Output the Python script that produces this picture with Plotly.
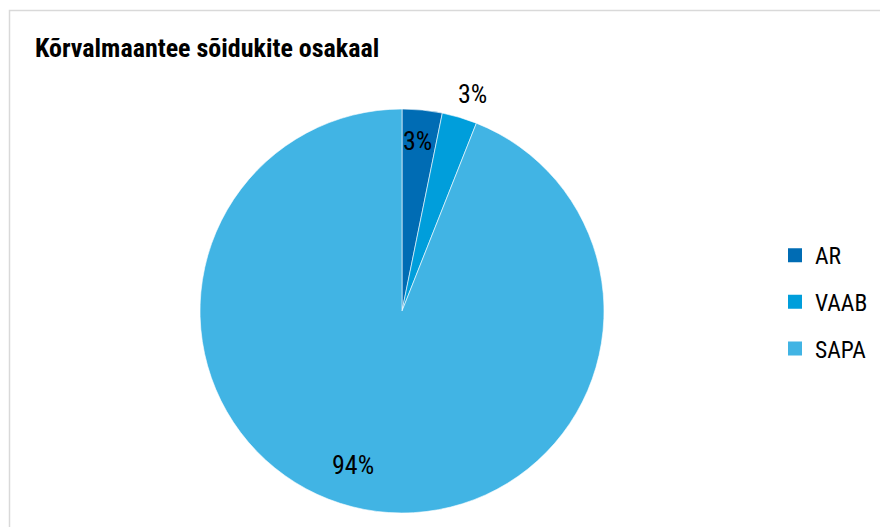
import math
import plotly.graph_objects as go

# Vehicle category shares on secondary roads
categories = ["AR", "VAAB", "SAPA"]
shares = [3.2, 2.8, 94.0]
colors = ["#006cb4", "#009edb", "#41b4e4"]

FONT = "Roboto Condensed, Liberation Sans Narrow, Roboto, sans-serif"
W, H = 880, 527

# Pie box in pixels (left, right, top, bottom)
PX0, PX1, PY0, PY1 = 200, 604, 109, 513

# Percent label placement per slice: (radius factor, position along the slice)
LABEL_PLACE = [(0.845, 0.45), (1.13, 0.65), (0.80, 0.52)]

fig = go.Figure()

fig.add_trace(go.Pie(
    labels=categories,
    values=shares,
    sort=False,
    direction="clockwise",
    rotation=0,
    marker=dict(colors=colors, line=dict(color="white", width=0.6)),
    textinfo="none",
    showlegend=False,
    hoverinfo="label+percent",
    domain=dict(x=[PX0 / W, PX1 / W], y=[1 - PY1 / H, 1 - PY0 / H]),
))

# Percent labels, set on rays through each slice
total = sum(shares)
cx, cy = (PX0 + PX1) / 2, (PY0 + PY1) / 2
R = (PX1 - PX0) / 2
cum = 0.0
for val, (rf, frac) in zip(shares, LABEL_PLACE):
    start = cum / total * 360
    span = val / total * 360
    cum += val
    ang = math.radians(start + frac * span)
    lx = cx + rf * R * math.sin(ang)
    ly = cy - rf * R * math.cos(ang)
    fig.add_annotation(
        x=lx / W, y=1 - ly / H, xref="paper", yref="paper",
        xanchor="center", yanchor="middle",
        text=f"{val / total:.0%}", showarrow=False,
        font=dict(family=FONT, size=26, color="black"),
    )

# Legend entries, one group each so the rows can be spaced apart
for name, col in zip(categories, colors):
    fig.add_trace(go.Scatter(
        x=[None], y=[None], mode="markers", name=name,
        legendgroup=name,
        marker=dict(symbol="square", size=14, color=col),
    ))

fig.update_layout(
    width=W, height=H,
    margin=dict(l=0, r=0, t=0, b=0),
    paper_bgcolor="white",
    plot_bgcolor="white",
    xaxis=dict(visible=False),
    yaxis=dict(visible=False),
    title=dict(
        text="<b>Kõrvalmaantee sõidukite osakaal</b>",
        font=dict(family=FONT, size=26, color="black"),
        x=35 / W, xanchor="left", xref="paper",
        y=1 - 48 / H, yanchor="middle", yref="paper",
    ),
    legend=dict(
        x=775 / W, xanchor="left",
        y=1 - 302 / H, yanchor="middle",
        font=dict(family=FONT, size=23.5, color="black"),
        tracegroupgap=13,
        itemwidth=30,
        bgcolor="rgba(0,0,0,0)",
    ),
    shapes=[dict(
        type="rect", xref="paper", yref="paper",
        x0=9.5 / W, x1=1.2, y0=-0.2, y1=1 - 10.5 / H,
        line=dict(color="#d9d9d9", width=1.5),
        fillcolor="rgba(0,0,0,0)", layer="below",
    )],
)

fig.write_html("out.html")
